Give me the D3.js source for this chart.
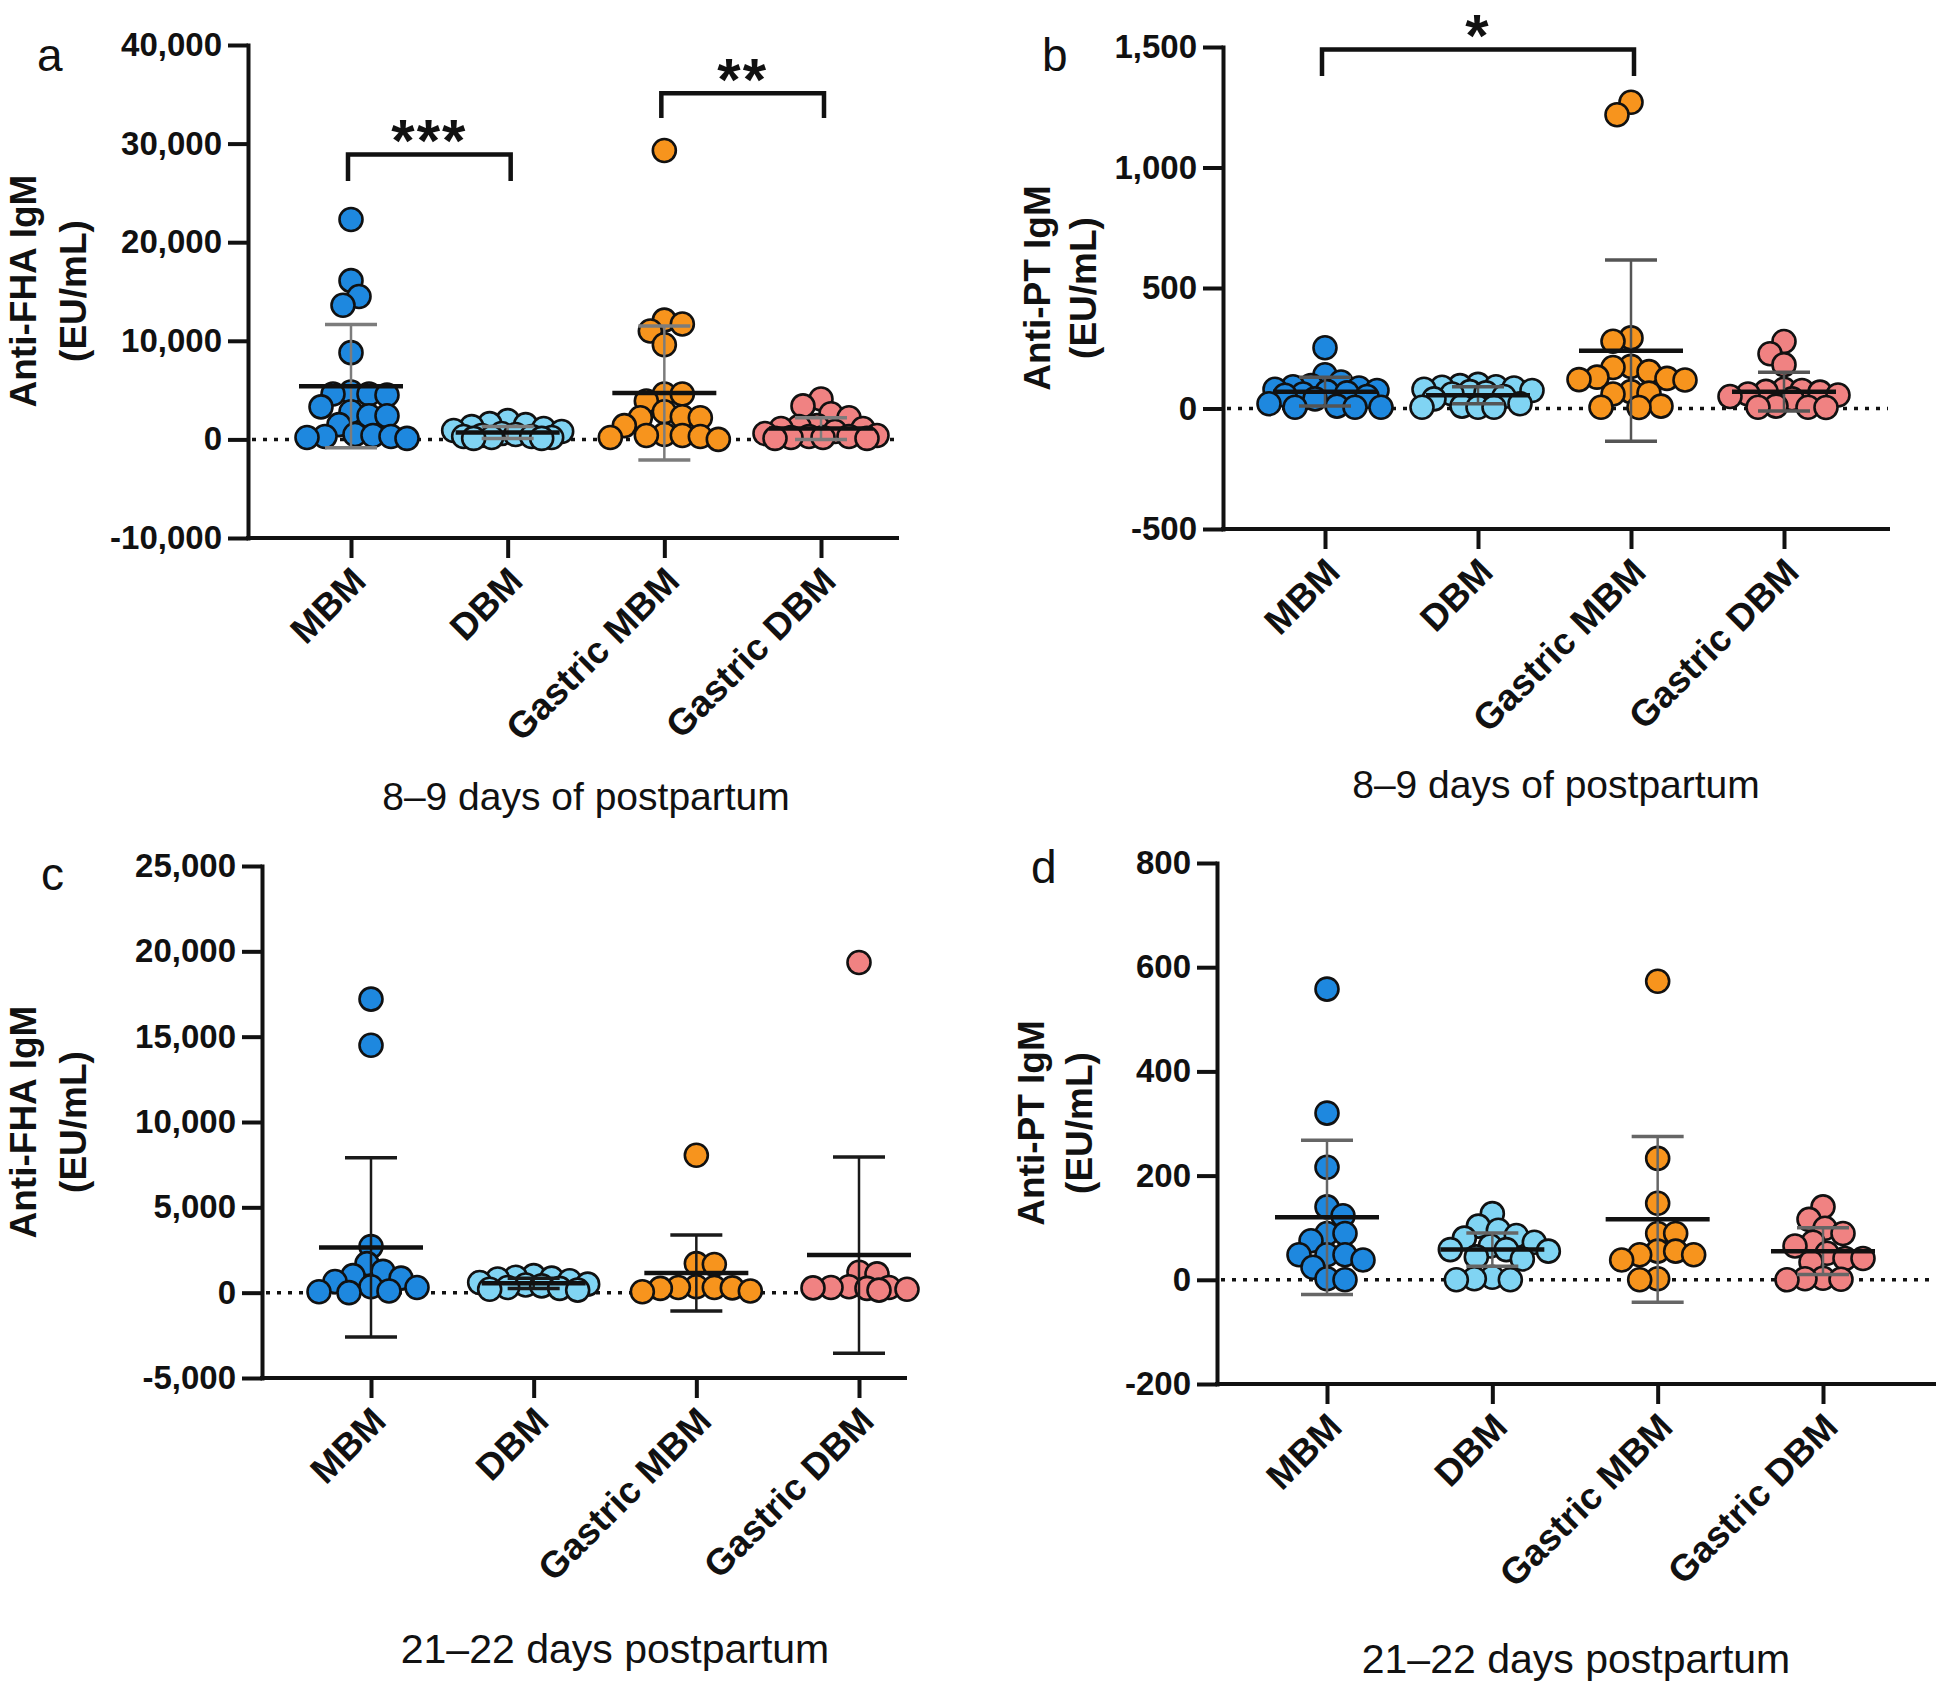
<!DOCTYPE html>
<html><head><meta charset="utf-8">
<script src="https://cdn.jsdelivr.net/npm/d3@7"></script>
<style>
html,body{margin:0;padding:0;background:#fff;}
svg{display:block;}
text{font-family:"Liberation Sans",Arial,Helvetica,sans-serif;fill:#111;}
</style></head><body>
<svg id="chart" width="1950" height="1694"></svg>
<script>
// ---------- DATA ----------
const categories = ["MBM", "DBM", "Gastric MBM", "Gastric DBM"];

// Panel a: Anti-FHA IgM, 8–9 days
const fha8MBM  = [22300, 16100, 14500, 13600, 8800, 4800, 4600, 4600, 4500, 3300, 2800, 2400, 2400, 1500, 500, 400, 300, 300, 200, 100];
const fha8DBM  = [1900, 1600, 1500, 1300, 1100, 900, 800, 600, 500, 400, 300, 300, 200, 200, 100, 100];
const fha8GMBM = [29300, 12100, 11700, 11000, 9600, 4600, 4600, 3900, 2800, 2300, 2200, 2200, 1400, 500, 400, 400, 300, 200, 0];
const fha8GDBM = [4100, 3400, 2600, 2200, 1400, 1300, 1100, 1100, 800, 600, 400, 300, 300, 200, 200, 100, 100];
const fha8Mean = [5400, 700, 4700, 1100];
const fha8SD   = [6250, 600, 6800, 1100];
const fha8Ticks = [-10000, 0, 10000, 20000, 30000, 40000];
const fha8Sig = [
  {from: "MBM", to: "DBM", label: "***", top: 28900, leg: 26200},
  {from: "Gastric MBM", to: "Gastric DBM", label: "**", top: 35100, leg: 32600}
];

// Panel b: Anti-PT IgM, 8–9 days
const pt8MBM  = [252, 140, 110, 95, 90, 85, 80, 75, 70, 65, 60, 55, 50, 40, 20, 10, 5, 5, 5];
const pt8DBM  = [100, 95, 90, 88, 85, 80, 75, 70, 65, 60, 50, 40, 20, 10, 5, 5, 5];
const pt8GMBM = [1271, 1219, 293, 279, 175, 170, 153, 130, 125, 120, 118, 70, 64, 60, 10, 5, 4];
const pt8GDBM = [278, 227, 182, 80, 75, 71, 68, 60, 56, 50, 40, 10, 5, 5, 4];
const pt8Mean = [70, 55, 240, 70];
const pt8SD   = [60, 35, 376, 80];
const pt8Ticks = [-500, 0, 500, 1000, 1500];
const pt8Sig = [
  {from: "MBM", to: "Gastric MBM", label: "*", top: 1490, leg: 1380}
];

// Panel c: Anti-FHA IgM, 21–22 days
const fha21MBM  = [17200, 14500, 2700, 1700, 1250, 1000, 850, 650, 350, 300, 100, 50, 0];
const fha21DBM  = [1000, 900, 850, 800, 700, 600, 500, 450, 400, 300, 250, 200, 150];
const fha21GMBM = [8050, 1700, 1650, 350, 300, 300, 280, 250, 100, 50];
const fha21GDBM = [19350, 1200, 1100, 350, 300, 300, 280, 250, 200, 150];
const fha21Mean = [2650, 550, 1150, 2200];
const fha21SD   = [5250, 300, 2230, 5750];
const fha21Ticks = [-5000, 0, 5000, 10000, 15000, 20000, 25000];

// Panel d: Anti-PT IgM, 21–22 days
const pt21MBM  = [558, 320, 216, 140, 123, 89, 89, 75, 48, 48, 48, 38, 24, 2, 0];
const pt21DBM  = [127, 103, 95, 85, 80, 72, 65, 58, 58, 55, 44, 40, 5, 2, 0, 0];
const pt21GMBM = [573, 233, 147, 89, 89, 55, 55, 48, 48, 38, 2, 0];
const pt21GDBM = [140, 116, 99, 89, 72, 65, 51, 41, 41, 34, 3, 2, 1, 0];
const pt21Mean = [120, 58, 116, 55];
const pt21SD   = [148, 32, 159, 45];
const pt21Ticks = [-200, 0, 200, 400, 600, 800];

// ---------- STYLE / LAYOUT ----------
const fillColors = ["#1e88df", "#80d4f3", "#f7941d", "#f08282"];
const fmt = d3.formatLocale({decimal: ".", thousands: ",", grouping: [3], currency: ["", ""], minus: "-"}).format(",");

const panels = [
  {letter: "a", yTitle: ["Anti-FHA IgM", "(EU/mL)"], xTitle: "8–9 days of postpartum",
   groups: [fha8MBM, fha8DBM, fha8GMBM, fha8GDBM], means: fha8Mean, sds: fha8SD, ticks: fha8Ticks, sig: fha8Sig,
   L: {axisX: 248, yTop: 45, yBot: 538, xRight: 897, xFirst: 351, xLast: 821, t1: 36, t2: 86, tY: 291,
       letX: 37, letY: 71, xtX: 586, xtY: 810, xtSize: 39, err: "#7c7c7c"}},
  {letter: "b", yTitle: ["Anti-PT IgM", "(EU/mL)"], xTitle: "8–9 days of postpartum",
   groups: [pt8MBM, pt8DBM, pt8GMBM, pt8GDBM], means: pt8Mean, sds: pt8SD, ticks: pt8Ticks, sig: pt8Sig,
   L: {axisX: 1223, yTop: 47, yBot: 529, xRight: 1888, xFirst: 1325, xLast: 1784, t1: 1050, t2: 1096, tY: 288,
       letX: 1042, letY: 71, xtX: 1556, xtY: 798, xtSize: 39, err: "#555"}},
  {letter: "c", yTitle: ["Anti-FHA IgM", "(EU/mL)"], xTitle: "21–22 days postpartum",
   groups: [fha21MBM, fha21DBM, fha21GMBM, fha21GDBM], means: fha21Mean, sds: fha21SD, ticks: fha21Ticks, sig: [],
   L: {axisX: 262, yTop: 866, yBot: 1378, xRight: 905, xFirst: 371, xLast: 859, t1: 36, t2: 86, tY: 1122,
       letX: 41, letY: 890, xtX: 615, xtY: 1663, xtSize: 41, err: "#1a1a1a"}},
  {letter: "d", yTitle: ["Anti-PT IgM", "(EU/mL)"], xTitle: "21–22 days postpartum",
   groups: [pt21MBM, pt21DBM, pt21GMBM, pt21GDBM], means: pt21Mean, sds: pt21SD, ticks: pt21Ticks, sig: [],
   L: {axisX: 1217, yTop: 863, yBot: 1384, xRight: 1934, xFirst: 1327, xLast: 1823, t1: 1044, t2: 1092, tY: 1123,
       letX: 1031, letY: 883, xtX: 1576, xtY: 1673, xtSize: 41, err: "#666"}}
];

// simple beeswarm: returns horizontal offsets for a set of pixel y positions
function swarmOffsets(pys, minD, maxOff, step) {
  const idx = d3.range(pys.length).sort((i, j) => pys[i] - pys[j]);
  const placed = [];
  const off = new Array(pys.length);
  let flip = 1;
  for (const i of idx) {
    let chosen = null, bestScore = -1, bestOff = 0;
    for (let k = 0; k * step <= maxOff && chosen === null; k++) {
      const cands = k === 0 ? [0] : [flip * k * step, -flip * k * step];
      for (const s of cands) {
        let md = Infinity;
        for (const p of placed) {
          const d = Math.hypot(p.x - s, p.y - pys[i]);
          if (d < md) md = d;
        }
        if (md >= minD) { chosen = s; break; }
        if (md > bestScore) { bestScore = md; bestOff = s; }
      }
    }
    if (chosen === null) chosen = bestOff;
    flip = -flip;
    off[i] = chosen;
    placed.push({x: chosen, y: pys[i]});
  }
  return off;
}

const svg = d3.select("#chart");
const R = 11.5;

panels.forEach(P => {
  const L = P.L;
  const g = svg.append("g");
  const dom = d3.extent(P.ticks);
  const y = d3.scaleLinear().domain(dom).range([L.yBot, L.yTop]);
  const x = d3.scalePoint().domain(categories).range([L.xFirst, L.xLast]);

  // y axis
  const ya = g.append("g").attr("transform", `translate(${L.axisX},0)`)
    .call(d3.axisLeft(y).tickValues(P.ticks).tickSize(20).tickSizeOuter(0).tickPadding(6).tickFormat(fmt));
  ya.select(".domain").attr("stroke", "#111").attr("stroke-width", 4).attr("stroke-linecap", "square");
  ya.selectAll(".tick line").attr("stroke", "#111").attr("stroke-width", 4);
  ya.selectAll(".tick text").attr("font-size", 33).attr("font-weight", "bold").attr("fill", "#111")
    .attr("font-family", "'Liberation Sans', Arial, sans-serif");

  // x axis (baseline at domain minimum)
  const xa = g.append("g").attr("transform", `translate(0,${L.yBot})`)
    .call(d3.axisBottom(x).tickSize(20).tickSizeOuter(0).tickFormat(""));
  xa.select(".domain").remove();
  xa.selectAll(".tick line").attr("stroke", "#111").attr("stroke-width", 4);
  g.append("line").attr("x1", L.axisX).attr("x2", L.xRight).attr("y1", L.yBot).attr("y2", L.yBot)
    .attr("stroke", "#111").attr("stroke-width", 4).attr("stroke-linecap", "square");

  // category labels
  categories.forEach(c => {
    g.append("text")
      .attr("transform", `translate(${x(c) + 8},${L.yBot + 36}) rotate(-45)`)
      .attr("text-anchor", "end").attr("dy", "0.35em")
      .attr("font-size", 37).attr("font-weight", "bold").text(c);
  });

  // zero dotted line
  g.append("line").attr("x1", L.axisX + 4).attr("x2", L.xRight).attr("y1", y(0)).attr("y2", y(0))
    .attr("stroke", "#111").attr("stroke-width", 3.5).attr("stroke-dasharray", "4,7");

  // dots
  P.groups.forEach((vals, gi) => {
    const cx = x(categories[gi]);
    const pys = vals.map(v => y(v));
    const offs = swarmOffsets(pys, 17.5, 56, 2);
    g.append("g").selectAll("circle").data(vals).join("circle")
      .attr("cx", (d, i) => cx + offs[i]).attr("cy", d => y(d)).attr("r", R)
      .attr("fill", fillColors[gi]).attr("stroke", "#111").attr("stroke-width", 2.6);
  });

  // mean ± SD
  P.means.forEach((m, gi) => {
    const cx = x(categories[gi]);
    const s = P.sds[gi];
    const eg = g.append("g");
    eg.append("line").attr("x1", cx).attr("x2", cx).attr("y1", y(m + s)).attr("y2", y(m - s))
      .attr("stroke", L.err).attr("stroke-width", 2.5);
    [m + s, m - s].forEach(v => {
      eg.append("line").attr("x1", cx - 26).attr("x2", cx + 26).attr("y1", y(v)).attr("y2", y(v))
        .attr("stroke", L.err).attr("stroke-width", 3.5);
    });
    eg.append("line").attr("x1", cx - 52).attr("x2", cx + 52).attr("y1", y(m)).attr("y2", y(m))
      .attr("stroke", "#111").attr("stroke-width", 4.5);
  });

  // significance brackets
  P.sig.forEach(s => {
    const x1 = x(s.from) - 3, x2 = x(s.to) + 3;
    g.append("path")
      .attr("d", d3.line()([[x1, y(s.leg)], [x1, y(s.top)], [x2, y(s.top)], [x2, y(s.leg)]]))
      .attr("fill", "none").attr("stroke", "#111").attr("stroke-width", 4.5);
    g.append("text").attr("x", (x1 + x2) / 2).attr("y", y(s.top) + 7)
      .attr("text-anchor", "middle").attr("font-size", 60).attr("font-weight", "bold")
      .attr("letter-spacing", 2).text(s.label);
  });

  // y title
  P.yTitle.forEach((t, li) => {
    g.append("text")
      .attr("transform", `translate(${li === 0 ? L.t1 : L.t2},${L.tY}) rotate(-90)`)
      .attr("text-anchor", "middle").attr("font-size", 37).attr("font-weight", "bold").text(t);
  });

  // panel letter
  g.append("text").attr("x", L.letX).attr("y", L.letY).attr("font-size", 46).text(P.letter);

  // x title
  g.append("text").attr("x", L.xtX).attr("y", L.xtY).attr("text-anchor", "middle")
    .attr("font-size", L.xtSize).text(P.xTitle);
});
</script>
</body></html>
